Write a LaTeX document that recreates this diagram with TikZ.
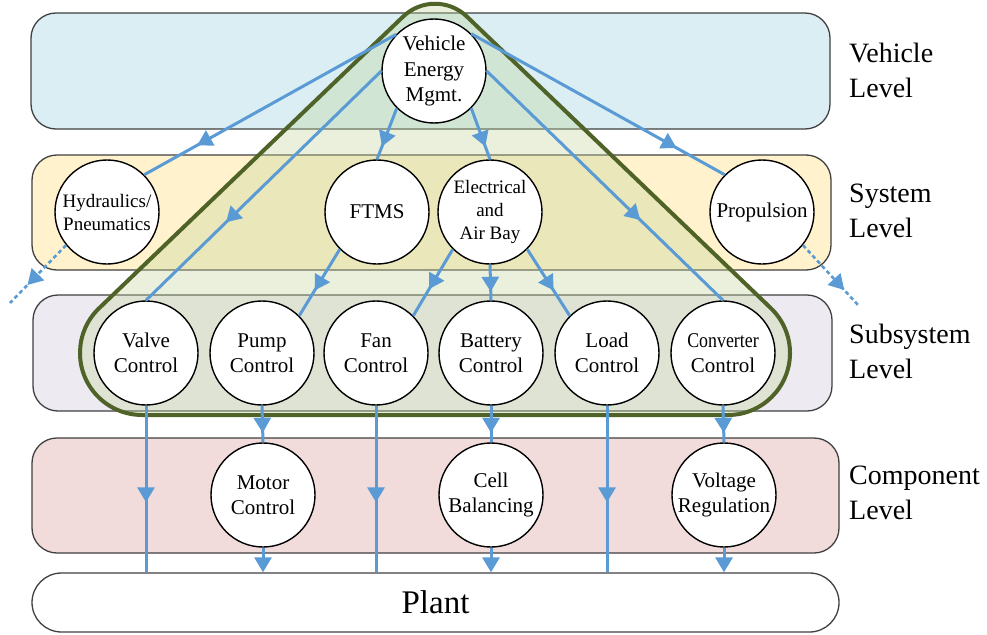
\documentclass[tikz,border=0pt]{standalone}
\usepackage{fontspec}
\usepackage{graphicx}
\setmainfont{Liberation Serif}
\usetikzlibrary{arrows.meta,decorations.markings}

\definecolor{vband}{HTML}{DAEEF3}
\definecolor{sband}{HTML}{FFF2CC}
\definecolor{ssband}{HTML}{EDEAF2}
\definecolor{cband}{HTML}{F2DCDB}
\definecolor{edge}{HTML}{404040}
\definecolor{flowblue}{HTML}{5B9BD5}
\definecolor{hier}{HTML}{4F6228}
\definecolor{hierfill}{HTML}{C3D69B}

\tikzset{
  band/.style={draw=edge, line width=1.3pt, rounded corners=25pt},
  unit/.style={circle, draw=black, line width=1.4pt, fill=white,
    minimum size=104pt, inner sep=0pt, align=center,
    font=\fontsize{21}{25.5}\selectfont},
  smalltext/.style={font=\fontsize{19}{23}\selectfont},
  levellabel/.style={anchor=west, align=left, inner sep=0pt,
    font=\fontsize{28}{35}\selectfont},
  flow/.style={draw=flowblue, line width=3pt},
  hint/.style={flow, line width=2.6pt, dash pattern=on 4pt off 3pt},
  tipat/.style={postaction={decorate},
    decoration={markings, mark=at position #1 with
      {\arrow{Triangle[length=15pt,width=17pt]}}}},
  endtip/.style={-{Triangle[length=15pt,width=17pt]}},
}

\begin{document}
\begin{tikzpicture}[x=1pt,y=-1pt]
\useasboundingbox (0,0) rectangle (987,634);
\fill[white] (0,0) rectangle (987,634);

% level bands
\draw[band, fill=vband]  (31,13)  rectangle (830,129);
\draw[band, fill=sband]  (32,155) rectangle (831,270);
\draw[band, fill=ssband] (33,295) rectangle (832,411);
\draw[band, fill=cband]  (32,438) rectangle (839,553);
\node[draw=edge, line width=1.3pt, rounded corners=29.5pt, fill=white,
  minimum width=807pt, minimum height=59pt, inner sep=0pt,
  font=\fontsize{33}{40}\selectfont] (plant) at (435.5,602.5) {Plant};

% energy-management hierarchy envelope (drawn with y pointing up)
\begin{scope}[y=1pt]
\filldraw[fill=hierfill, fill opacity=0.35, draw=hier, line width=4pt,
  line join=round]
  (142,-415) -- (728,-415)
  arc[start angle=-90, end angle=46.1, radius=62pt]
  -- (466.9,-16.6)
  arc[start angle=46.1, end angle=133.9, radius=46pt]
  -- (99,-308.3)
  arc[start angle=133.9, end angle=270, radius=62pt]
  -- cycle;
\end{scope}

% controllers
\node[unit] (vem) at (434,71) {Vehicle\\Energy\\Mgmt.};

\node[unit, smalltext] (hyd) at (107,212) {Hydraulics/\\Pneumatics};
\node[unit] (ftms) at (377,212) {FTMS};
\node[unit, smalltext] (elec) at (490,212) {Electrical\\and\\Air Bay};
\node[unit] (prop) at (762,212) {Propulsion};

\node[unit] (valve) at (146,353) {Valve\\Control};
\node[unit] (pump)  at (262,353) {Pump\\Control};
\node[unit] (fan)   at (376,353) {Fan\\Control};
\node[unit] (batt)  at (491,353) {Battery\\Control};
\node[unit] (load)  at (607,353) {Load\\Control};
\node[unit] (conv)  at (723,353) {\scalebox{0.85}[1]{Converter}\\Control};

\node[unit] (motor) at (263,495) {Motor\\Control};
\node[unit] (cell)  at (491,495) {Cell\\Balancing};
\node[unit] (volt)  at (724,495) {Voltage\\Regulation};

% level names
\node[levellabel] (lvveh) at (849,70)  {Vehicle\\Level};
\node[levellabel] (lvsys) at (849,211) {System\\Level};
\node[levellabel] (lvsub) at (849,351) {Subsystem\\Level};
\node[levellabel] (lvcmp) at (849,493) {Component\\Level};

% vehicle -> system / subsystem
\draw[flow, tipat=0.79] (vem.136) -- (hyd.45);
\draw[flow, tipat=0.81] (vem.45)  -- (prop.135);
\draw[flow, tipat=0.66] (vem.180) -- (valve.90);
\draw[flow, tipat=0.65] (vem.0)   -- (conv.90);
\draw[flow, tipat=0.75] (vem.225) -- (ftms.90);
\draw[flow, tipat=0.75] (vem.315) -- (elec.90);

% system -> subsystem
\draw[flow, tipat=0.62] (ftms.225) -- (pump.45);
\draw[flow, tipat=0.60] (elec.225) -- (fan.45);
\draw[flow, tipat=0.76] (elec.270) -- (batt.90);
\draw[flow, tipat=0.62] (elec.315) -- (load.135);

% outgoing hints
\coordinate (hydout) at (10,303);
\coordinate (propout) at (858,305);
\draw[hint, tipat=0.69] (hyd.219) -- (hydout);
\draw[hint, tipat=0.75] (prop.321) -- (propout);

% subsystem -> component
\draw[flow, tipat=0.74] (pump.south) -- (motor.north);
\draw[flow, tipat=0.74] (batt.south) -- (cell.north);
\draw[flow, tipat=0.74] (conv.south) -- (volt.north);

% subsystem -> plant
\draw[flow, tipat=0.58] (valve.south) -- (valve.south |- plant.north);
\draw[flow, tipat=0.58] (fan.south)   -- (fan.south |- plant.north);
\draw[flow, tipat=0.58] (load.south)  -- (load.south |- plant.north);

% component -> plant
\draw[flow, endtip] (motor.south) -- (motor.south |- plant.north);
\draw[flow, endtip] (cell.south)  -- (cell.south |- plant.north);
\draw[flow, endtip] (volt.south)  -- (volt.south |- plant.north);
\end{tikzpicture}
\end{document}
